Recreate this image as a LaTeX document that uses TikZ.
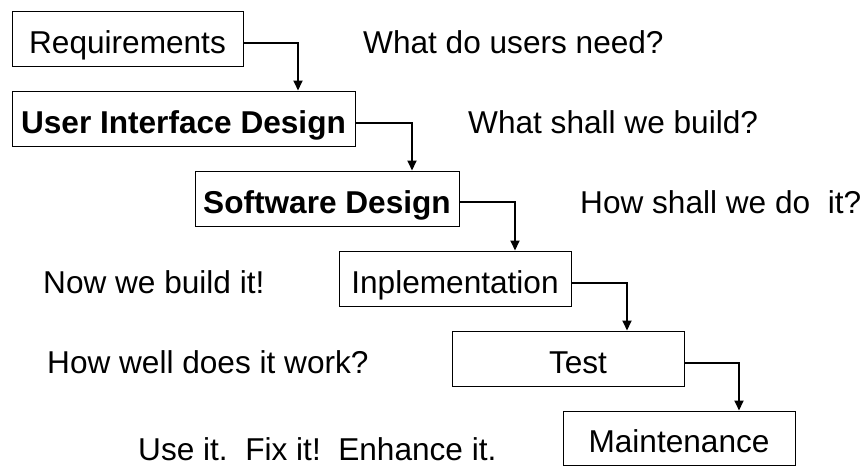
\documentclass[tikz,border=0pt]{standalone}
\usepackage{fontspec}
\setmainfont{Liberation Sans}
\usetikzlibrary{arrows.meta}
\tikzset{
  stagebox/.style={draw=black, line width=1pt, inner sep=0pt, text height=29pt, text depth=0pt, minimum height=55pt, font=\fontsize{31.6}{36}\selectfont},
  sidetext/.style={anchor=base west, inner sep=0pt, font=\fontsize{31.6}{36}\selectfont},
  conn/.style={draw=black, line width=1.8pt, -{Triangle[length=10pt,width=9pt]}}
}
\begin{document}
\begin{tikzpicture}[x=1pt,y=-1pt]
\useasboundingbox (0,0) rectangle (866,466);
% stage boxes
\node[stagebox, minimum width=231pt] (req) at (127.5,38.5) {Requirements};
\node[stagebox, minimum width=343pt] (uid) at (183.5,118.5) {\bfseries User Interface Design};
\node[stagebox, minimum width=264pt] (sd) at (327,198.5) {\bfseries Software Design};
\node[stagebox, minimum width=232pt] (imp) at (455,278.5) {Inplementation};
\node[stagebox, minimum width=232pt] (test) at (568,358.5) {\hspace*{20pt}Test};
\node[stagebox, minimum width=232pt, minimum height=54.5pt] (mnt) at (679,438.25) {Maintenance};
% side texts
\node[sidetext] (t1) at (363,53) {What do users need?};
\node[sidetext] (t2) at (468,133) {What shall we build?};
\node[sidetext] (t3) at (580,213) {How shall we do\ \ it?};
\node[sidetext] (t4) at (43,293) {Now we build it!};
\node[sidetext] (t5) at (47,373) {How well does it work?};
\node[sidetext] (t6) at (138,460) {Use it.\ \ Fix it!\ \ Enhance it.};
% connectors
\coordinate (k1) at (298,43);
\coordinate (k2) at (412,123);
\coordinate (k3) at (515,202);
\coordinate (k4) at (627,283);
\coordinate (k5) at (739,363);
\draw[conn] (req.east |- k1) -- (k1) -- (k1 |- uid.north);
\draw[conn] (uid.east |- k2) -- (k2) -- (k2 |- sd.north);
\draw[conn] (sd.east |- k3) -- (k3) -- (k3 |- imp.north);
\draw[conn] (imp.east |- k4) -- (k4) -- (k4 |- test.north);
\draw[conn] (test.east |- k5) -- (k5) -- (k5 |- mnt.north);
\end{tikzpicture}
\end{document}
